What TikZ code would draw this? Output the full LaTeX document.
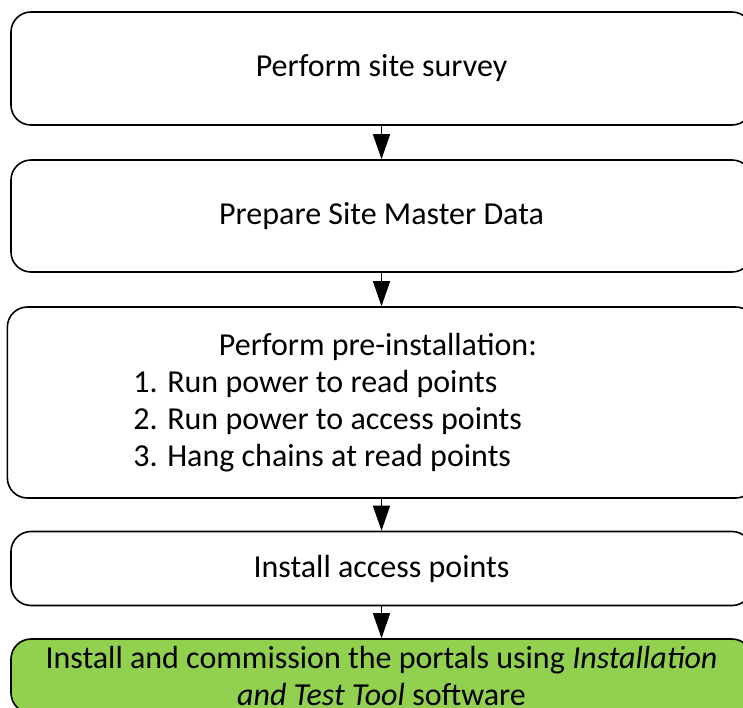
\documentclass[tikz,border=0pt]{standalone}
\usepackage{fontspec}
\setmainfont{Carlito}
\usetikzlibrary{arrows.meta}
\definecolor{portalgreen}{RGB}{146,208,80}

\begin{document}
\begin{tikzpicture}[x=1pt,y=-1pt,
    stepbox/.style={draw, line width=1.6pt, rounded corners=20pt,
      minimum width=741pt, inner sep=0pt, align=center,
      font=\fontsize{32}{37}\selectfont},
    flowarrow/.style={line width=1.4pt, -{Triangle[width=17pt,length=25pt]}}]
  %% Page frame, the last box runs off the bottom and right edges
  \useasboundingbox (0,0) rectangle (743,707);
  \clip (0,0) rectangle (743,707);

  %% The steps
  \node[stepbox, minimum height=113pt] (survey) at (381.5,68.5) {Perform site survey};
  \node[stepbox, minimum height=112pt] (masterdata) at (381.5,216) {Prepare Site Master Data};
  \node[stepbox, minimum height=191pt] (preinstall) at (381.5,402.5)
  { \parbox{741pt}{\centering Perform pre-installation:\par
      \raggedright
      \hspace*{126pt}1. Run power to read points\par
      \hspace*{126pt}2. Run power to access points\par
      \hspace*{126pt}3. Hang chains at read points} };
  \node[stepbox, minimum height=74pt] (accesspoints) at (381.5,568.5) {Install access points};
  \node[stepbox, minimum height=74pt, fill=portalgreen] (portals) at (381.5,676)
  {Install and commission the portals using \textit{Installation}\\
    \textit{and Test Tool} software};

  %% Arrows between the steps
  \foreach \a/\b in {survey/masterdata,masterdata/preinstall,preinstall/accesspoints,accesspoints/portals}
  {
    \draw[flowarrow] (\a) -- (\b);
  }
\end{tikzpicture}
\end{document}
